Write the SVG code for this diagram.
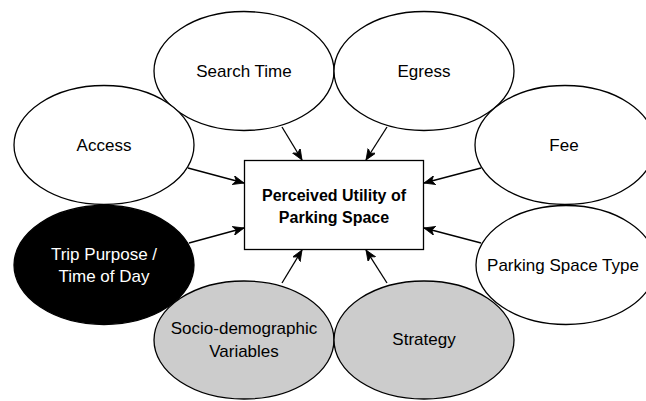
<svg xmlns="http://www.w3.org/2000/svg" width="646" height="401" viewBox="0 0 646 401">
  <defs>
    <marker id="arr" markerUnits="userSpaceOnUse" markerWidth="12" markerHeight="10" refX="11" refY="4.5" orient="auto">
      <path d="M0,0 L11,4.5 L0,9 L3,4.5 Z" fill="#000" stroke="#000" stroke-width="0.8"/>
    </marker>
  </defs>
  <style>
    .n { stroke: #000; stroke-width: 1.3; }
    .w { fill: #fff; }
    .g { fill: #cccccc; }
    .b { fill: #000; }
    .t { font-family: "Liberation Sans", Arial, sans-serif; font-size: 17px; text-anchor: middle; fill: #000; }
    .tw { fill: #fff; }
    .bold { font-weight: bold; font-size: 16px; }
    .c { stroke: #000; stroke-width: 1.3; fill: none; marker-end: url(#arr); }
  </style>
  <rect width="646" height="401" fill="#fff"/>
  <g id="center">
    <rect class="n w" x="244.5" y="160.5" width="179" height="89"/>
    <text class="t bold" x="334" y="201">Perceived Utility of</text>
    <text class="t bold" x="334" y="223">Parking Space</text>
  </g>
  <g id="search-time">
    <ellipse class="n w" cx="244" cy="71" rx="90" ry="59.5"/>
    <text class="t" x="244" y="77">Search Time</text>
  </g>
  <g id="egress">
    <ellipse class="n w" cx="424" cy="71" rx="90" ry="59.5"/>
    <text class="t" x="424" y="77">Egress</text>
  </g>
  <g id="access">
    <ellipse class="n w" cx="104" cy="145" rx="90" ry="59.5"/>
    <text class="t" x="104" y="151">Access</text>
  </g>
  <g id="fee">
    <ellipse class="n w" cx="565" cy="145" rx="90" ry="59.5"/>
    <text class="t" x="564" y="151">Fee</text>
  </g>
  <g id="trip-purpose">
    <ellipse class="n b" cx="104" cy="265" rx="90" ry="59.5"/>
    <text class="t tw" x="104" y="260">Trip Purpose /</text>
    <text class="t tw" x="104" y="282">Time of Day</text>
  </g>
  <g id="parking-space-type">
    <ellipse class="n w" cx="566" cy="265" rx="90" ry="59.5"/>
    <text class="t" x="563" y="271">Parking Space Type</text>
  </g>
  <g id="socio-demographic">
    <ellipse class="n g" cx="244" cy="340" rx="90" ry="59"/>
    <text class="t" x="244" y="334">Socio-demographic</text>
    <text class="t" x="244" y="357">Variables</text>
  </g>
  <g id="strategy">
    <ellipse class="n g" cx="424" cy="340" rx="90" ry="59"/>
    <text class="t" x="424" y="345">Strategy</text>
  </g>
  <g id="connectors">
    <line class="c" x1="282" y1="127" x2="302" y2="160"/>
    <line class="c" x1="387" y1="127" x2="366" y2="160"/>
    <line class="c" x1="188" y1="168" x2="244" y2="183"/>
    <line class="c" x1="481" y1="168" x2="424" y2="183"/>
    <line class="c" x1="189" y1="243" x2="244" y2="228"/>
    <line class="c" x1="481" y1="243" x2="424" y2="228"/>
    <line class="c" x1="282" y1="283" x2="302" y2="250"/>
    <line class="c" x1="387" y1="283" x2="366" y2="250"/>
  </g>
</svg>
